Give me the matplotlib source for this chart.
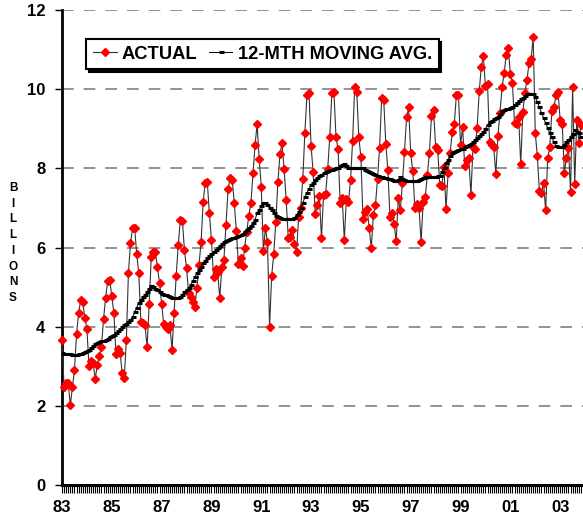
import matplotlib
matplotlib.use("Agg")
import matplotlib.pyplot as plt
import numpy as np

plt.rcParams['font.family'] = ['Liberation Sans', 'DejaVu Sans']
plt.rcParams['font.weight'] = 'bold'

# monthly values, Jan 1983 onwards (billions)
actual = [
    3.66, 2.47, 2.57, 2.57, 2.02, 2.47, 2.9, 3.81, 4.34, 4.67, 4.62, 4.22,
    3.94, 3.0, 3.13, 3.08, 2.68, 3.03, 3.26, 3.48, 4.19, 4.72, 5.15, 5.18,
    4.77, 4.34, 3.31, 3.43, 3.33, 2.83, 2.7, 3.66, 5.35, 6.11, 6.49, 6.49,
    5.83, 5.35, 4.12, 4.09, 4.04, 3.48, 4.57, 5.76, 5.88, 5.88, 5.5, 5.1,
    4.57, 4.07, 3.99, 3.94, 4.04, 3.41, 4.34, 5.28, 6.06, 6.69, 6.67, 5.93,
    5.48, 4.85, 4.75, 4.62, 4.5, 4.97, 5.56, 6.14, 7.15, 7.63, 7.65, 6.87,
    6.19, 5.25, 5.45, 5.38, 4.72, 5.5, 5.68, 6.57, 7.47, 7.75, 7.7, 7.12,
    6.41, 5.58, 5.73, 5.53, 6.0, 6.39, 6.8, 7.12, 7.87, 8.59, 9.11, 8.23,
    7.53, 5.91, 6.49, 6.14, 3.99, 5.28, 5.83, 6.64, 7.65, 8.36, 8.63, 7.98,
    7.2, 6.24, 6.26, 6.44, 6.1, 5.88, 6.77, 6.99, 7.73, 8.89, 9.85, 9.9,
    8.56, 7.9, 6.84, 7.07, 7.3, 6.24, 7.32, 7.35, 7.98, 8.79, 9.9, 9.92,
    8.79, 8.48, 7.12, 7.25, 6.19, 7.22, 7.15, 7.7, 8.69, 10.05, 9.92, 8.79,
    8.28, 6.72, 6.89, 6.97, 6.5, 5.98, 6.82, 7.07, 7.73, 8.51, 9.77, 9.72,
    8.61, 7.95, 6.77, 6.87, 6.59, 6.16, 7.25, 6.94, 7.63, 8.41, 9.29, 9.54,
    8.38, 7.93, 6.99, 7.1, 6.99, 6.14, 7.15, 7.27, 7.83, 8.38, 9.32, 9.47,
    8.54, 8.46, 7.58, 7.55, 8.03, 6.97, 7.88, 8.4, 8.91, 9.11, 9.85, 9.85,
    8.59, 9.04, 8.06, 8.2, 8.26, 7.32, 8.54, 8.48, 9.02, 9.95, 10.56, 10.83,
    10.08, 10.13, 8.66, 8.59, 8.54, 7.85, 8.81, 9.4, 10.05, 10.4, 10.86, 11.03,
    10.38, 10.15, 9.14, 9.11, 9.29, 8.1, 9.42, 9.9, 10.23, 10.66, 10.76, 11.31,
    8.89, 8.31, 7.42, 7.37, 7.63, 6.94, 8.26, 8.54, 9.44, 9.54, 9.85, 9.92,
    9.22, 9.11, 7.88, 8.26, 8.51, 7.4, 10.05, 7.6, 9.22, 8.64, 9.09,
]

moving_avg = [
    3.33, 3.32, 3.31, 3.30, 3.30, 3.29, 3.28, 3.29, 3.30, 3.32, 3.34, 3.36,
    3.38, 3.42, 3.46, 3.50, 3.55, 3.59, 3.61, 3.63, 3.65, 3.66, 3.70, 3.74,
    3.77, 3.79, 3.83, 3.88, 3.93, 3.99, 4.03, 4.08, 4.13, 4.18, 4.24, 4.36,
    4.48, 4.60, 4.67, 4.74, 4.80, 4.88, 4.96, 5.03, 5.00, 4.96, 4.92, 4.87,
    4.83, 4.80, 4.80, 4.77, 4.75, 4.73, 4.72, 4.72, 4.73, 4.75, 4.80, 4.87,
    4.93, 4.97, 5.05, 5.15, 5.25, 5.35, 5.43, 5.52, 5.60, 5.67, 5.73, 5.78,
    5.83, 5.88, 5.93, 5.98, 6.03, 6.08, 6.14, 6.17, 6.20, 6.22, 6.24, 6.25,
    6.26, 6.28, 6.31, 6.35, 6.39, 6.44, 6.50, 6.55, 6.62, 6.70, 6.87, 6.95,
    7.05, 7.12, 7.12, 7.07, 7.00, 6.95, 6.87, 6.80, 6.77, 6.74, 6.72, 6.72,
    6.72, 6.72, 6.72, 6.72, 6.75, 6.82, 6.89, 7.00, 7.12, 7.27, 7.38, 7.48,
    7.58, 7.64, 7.70, 7.75, 7.80, 7.84, 7.87, 7.90, 7.93, 7.95, 7.97, 7.99,
    8.00, 8.02, 8.05, 8.08, 8.10, 8.05, 8.02, 8.00, 8.00, 8.00, 8.00, 8.00,
    8.00, 8.00, 7.97, 7.93, 7.90, 7.87, 7.85, 7.82, 7.80, 7.78, 7.77, 7.76,
    7.75, 7.74, 7.72, 7.70, 7.69, 7.68, 7.70, 7.78, 7.72, 7.70, 7.69, 7.68,
    7.68, 7.68, 7.68, 7.68, 7.70, 7.73, 7.76, 7.78, 7.78, 7.78, 7.78, 7.78,
    7.79, 7.80, 7.80, 7.90, 8.00, 8.13, 8.22, 8.30, 8.38, 8.42, 8.45, 8.47,
    8.48, 8.50, 8.53, 8.56, 8.59, 8.62, 8.66, 8.71, 8.76, 8.81, 8.86, 8.91,
    9.00, 9.09, 9.17, 9.20, 9.24, 9.27, 9.30, 9.38, 9.45, 9.48, 9.50, 9.50,
    9.52, 9.56, 9.60, 9.65, 9.70, 9.74, 9.77, 9.82, 9.87, 9.87, 9.87, 9.87,
    9.80, 9.68, 9.54, 9.40, 9.28, 9.15, 9.02, 8.89, 8.78, 8.67, 8.56, 8.55,
    8.54, 8.55, 8.60, 8.66, 8.72, 8.79, 8.88, 8.96, 8.92, 8.89, 8.79,
]

year_labels = ['83', '85', '87', '89', '91', '93', '95', '97', '99', '01', '03']
y_ticks = [0, 2, 4, 6, 8, 10, 12]

months = np.arange(len(actual))

fig = plt.figure(figsize=(5.83, 5.27), dpi=100)
ax = fig.add_axes([62 / 583, 1 - 485 / 527, 521 / 583, 475 / 527])

# dashed horizontal grid
for yv in y_ticks[1:]:
    ax.axhline(yv, color='#808080', lw=1.2, dashes=(7, 6), zorder=0)

ax.plot(months, actual, color='#333333', lw=0.8, marker='D', ms=3.6,
        mfc='red', mec='red', clip_on=False, label='ACTUAL', zorder=3)
ax.plot(months, moving_avg, color='black', lw=0.7, marker='_', ms=3.6,
        mew=2.2, label='12-MTH MOVING AVG.', zorder=4)

ax.set_xlim(0, 251)
ax.set_ylim(0, 12)

ax.set_yticks(y_ticks)
ax.set_yticklabels([str(v) for v in y_ticks], fontsize=12, fontweight='bold')
ax.set_xticks(np.arange(0, len(actual), 24))
ax.set_xticklabels(year_labels, fontsize=12, fontweight='bold')
ax.set_xticks(months, minor=True)
ax.tick_params(axis='x', which='both', length=6, width=0.8, direction='out', pad=5)
ax.tick_params(axis='y', which='major', length=5, width=1, direction='out', pad=7)

for s in ['top', 'right']:
    ax.spines[s].set_visible(False)
ax.spines['left'].set_linewidth(2)
ax.spines['bottom'].set_linewidth(2.2)

# vertical stacked axis title
for k, ch in enumerate('BILLIONS'):
    fig.text(13 / 583, 1 - (188 + k * 15.7) / 527, ch, fontsize=8.5,
             fontweight='bold', ha='center', va='center')

leg = ax.legend(loc='upper left', bbox_to_anchor=(0.029, 0.958), ncol=2,
                fontsize=13.2, frameon=True, fancybox=False, handlelength=1.3,
                handletextpad=0.3, columnspacing=0.6, borderpad=0.35,
                shadow={'color': 'black', 'alpha': 1.0})
leg.get_frame().set_edgecolor('black')
leg.get_frame().set_linewidth(1.5)
for t in leg.get_texts():
    t.set_fontweight('bold')

fig.savefig('out.png', dpi=100)
